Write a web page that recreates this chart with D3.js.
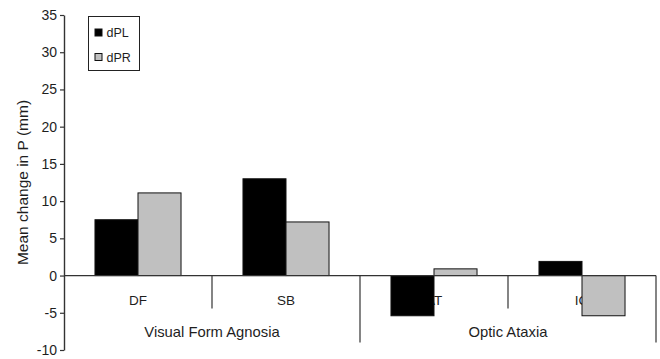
<!DOCTYPE html>
<html>
<head>
<meta charset="utf-8">
<script src="https://cdn.jsdelivr.net/npm/d3@7"></script>
<style>
  html, body { margin: 0; padding: 0; background: #fff; }
  svg { display: block; font-family: "Liberation Sans", Arial, sans-serif; }
</style>
</head>
<body>
<svg id="chart" width="660" height="359"></svg>
<script>
// Mean change in P per patient, grouped by condition
const categories = ["DF", "SB", "AT", "IG"];
const groups = [
  { name: "Visual Form Agnosia", members: ["DF", "SB"] },
  { name: "Optic Ataxia", members: ["AT", "IG"] }
];
const seriesNames = ["dPL", "dPR"];
const dPL = [7.5, 13.0, -5.4, 1.9];
const dPR = [11.1, 7.2, 0.9, -5.4];
const yTicks = [-10, -5, 0, 5, 10, 15, 20, 25, 30, 35];

const seriesValues = { dPL, dPR };
const colors = { dPL: "#000000", dPR: "#c0c0c0" };

const svg = d3.select("#chart");
const margin = { left: 64, right: 4, top: 15, bottom: 9 };
const W = 660, H = 359;

const x0 = d3.scaleBand().domain(categories)
  .range([margin.left, W - margin.right]).paddingInner(0).paddingOuter(0);
const x1 = d3.scaleBand().domain(seriesNames)
  .range([0, x0.bandwidth()]).paddingInner(0).paddingOuter(0.72);
const y = d3.scaleLinear().domain([-10, 35]).range([H - margin.bottom, margin.top]);

const ink = "#1e1e1e";

// category labels (drawn first so bars sit on top of them)
svg.append("g").selectAll("text").data(categories).join("text")
  .attr("x", d => x0(d) + x0.bandwidth() / 2)
  .attr("y", y(0) + 29)
  .attr("text-anchor", "middle")
  .attr("font-size", 13.5)
  .attr("fill", ink)
  .text(d => d);

// bars
const rows = categories.map((c, i) => seriesNames.map(s => ({ cat: c, s, v: seriesValues[s][i] })));
svg.append("g").selectAll("g").data(rows).join("g")
  .attr("transform", d => `translate(${x0(d[0].cat)},0)`)
  .selectAll("rect").data(d => d).join("rect")
  .attr("x", d => x1(d.s))
  .attr("width", x1.bandwidth())
  .attr("y", d => y(Math.max(0, d.v)))
  .attr("height", d => Math.abs(y(d.v) - y(0)))
  .attr("fill", d => colors[d.s])
  .attr("stroke", "#111")
  .attr("stroke-width", 1);

// zero baseline
svg.append("line")
  .attr("x1", margin.left).attr("x2", W - margin.right)
  .attr("y1", y(0)).attr("y2", y(0))
  .attr("stroke", "#333").attr("stroke-width", 1.2);

// category and group separators
const seps = [];
groups.forEach(g => {
  g.members.forEach((m, j) => {
    const xe = x0(m) + x0.bandwidth();
    seps.push({ x: xe, long: j === g.members.length - 1 });
  });
});
svg.append("g").selectAll("line").data(seps).join("line")
  .attr("x1", d => d.x).attr("x2", d => d.x)
  .attr("y1", y(0))
  .attr("y2", d => d.long ? y(0) + 67 : y(0) + 33)
  .attr("stroke", "#333").attr("stroke-width", 1.2);

// group labels
svg.append("g").selectAll("text").data(groups).join("text")
  .attr("x", g => {
    const a = x0(g.members[0]);
    const b = x0(g.members[g.members.length - 1]) + x0.bandwidth();
    return (a + b) / 2;
  })
  .attr("y", y(0) + 61)
  .attr("text-anchor", "middle")
  .attr("font-size", 14.8)
  .attr("fill", ink)
  .text(g => g.name);

// y axis
const yAxis = svg.append("g")
  .attr("transform", `translate(${margin.left},0)`)
  .call(d3.axisLeft(y).tickValues(yTicks).tickFormat(d => String(d))
    .tickSize(4).tickSizeOuter(0).tickPadding(3));
yAxis.select(".domain").attr("stroke", "#333").attr("stroke-width", 1.4);
yAxis.selectAll(".tick line").attr("stroke", "#333").attr("stroke-width", 1.2);
yAxis.selectAll(".tick text").attr("font-size", 14).attr("fill", ink)
  .attr("font-family", "\"Liberation Sans\", Arial, sans-serif");

// y axis title
svg.append("text")
  .attr("transform", `translate(28,${(y(-10) + y(35)) / 2}) rotate(-90)`)
  .attr("text-anchor", "middle")
  .attr("font-size", 15.5)
  .attr("fill", ink)
  .text("Mean change in P (mm)");

// legend
const lg = svg.append("g").attr("transform", "translate(88.5,16.5)");
lg.append("rect").attr("width", 51).attr("height", 54)
  .attr("fill", "#fff").attr("stroke", "#222").attr("stroke-width", 1);
seriesNames.forEach((s, i) => {
  const cy = 16 + i * 24.5;
  lg.append("rect").attr("x", 6.5).attr("y", cy - 3.5).attr("width", 7).attr("height", 7)
    .attr("fill", colors[s]).attr("stroke", "#111").attr("stroke-width", 1);
  lg.append("text").attr("x", 18).attr("y", cy + 4.5)
    .attr("font-size", 12.5).attr("fill", ink).text(s);
});
</script>
</body>
</html>
